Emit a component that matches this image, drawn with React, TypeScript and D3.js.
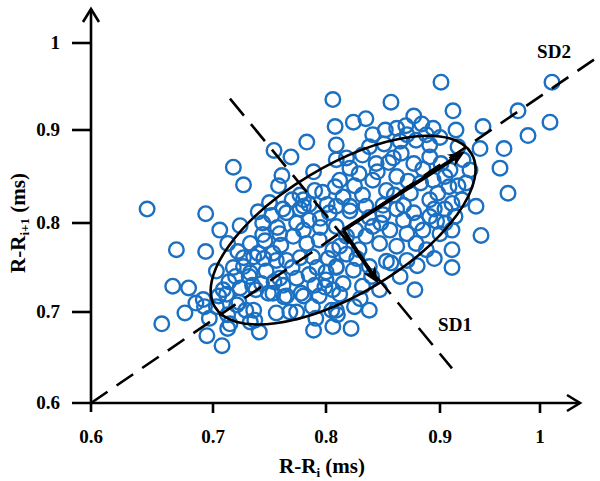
import * as d3 from 'd3';
import * as React from 'react';

// Poincaré plot: R-R(i) against R-R(i+1), values in ms as labelled on the figure
const xTicks = [0.6, 0.7, 0.8, 0.9, 1];
const yTicks = [0.6, 0.7, 0.8, 0.9, 1];
const xTickLabels = ['0.6', '0.7', '0.8', '0.9', '1'];
const yTickLabels = ['0.6', '0.7', '0.8', '0.9', '1'];

const rrPairs: [number, number][] = [
  [0.646, 0.815], [0.658, 0.687], [0.670, 0.770], [0.667, 0.729], [0.680, 0.727],
  [0.677, 0.699], [0.686, 0.710], [0.693, 0.706], [0.695, 0.674], [0.708, 0.663],
  [0.713, 0.682], [0.713, 0.697], [0.694, 0.810], [0.706, 0.792], [0.694, 0.768],
  [0.703, 0.746], [0.713, 0.777], [0.724, 0.797], [0.718, 0.860], [0.727, 0.841],
  [0.705, 0.718], [0.714, 0.734], [0.723, 0.711], [0.729, 0.702], [0.737, 0.691],
  [0.741, 0.678], [0.727, 0.751], [0.736, 0.762], [0.732, 0.740], [0.743, 0.732],
  [0.746, 0.780], [0.750, 0.822], [0.754, 0.878], [0.761, 0.851], [0.769, 0.871],
  [0.783, 0.887], [0.806, 0.935], [0.789, 0.855], [0.777, 0.830], [0.780, 0.818],
  [0.756, 0.758], [0.754, 0.734], [0.749, 0.721], [0.763, 0.717], [0.768, 0.700],
  [0.778, 0.721], [0.789, 0.680], [0.791, 0.693], [0.799, 0.728], [0.810, 0.697],
  [0.822, 0.682], [0.825, 0.706], [0.838, 0.702], [0.847, 0.725], [0.878, 0.725],
  [0.857, 0.755], [0.912, 0.770], [0.912, 0.750], [0.941, 0.786], [0.936, 0.818],
  [0.968, 0.832], [0.960, 0.859], [0.964, 0.880], [0.940, 0.880], [0.943, 0.904],
  [0.988, 0.894], [0.978, 0.922], [1.010, 0.909], [1.012, 0.955], [0.901, 0.955],
  [0.857, 0.932], [0.877, 0.916], [0.913, 0.922], [0.916, 0.900], [0.930, 0.857],
  [0.918, 0.882], [0.923, 0.868], [0.926, 0.843], [0.922, 0.825], [0.915, 0.807],
  [0.808, 0.904], [0.809, 0.868], [0.790, 0.835], [0.797, 0.833], [0.808, 0.839],
  [0.785, 0.820], [0.801, 0.820], [0.824, 0.909], [0.835, 0.913], [0.809, 0.884],
  [0.841, 0.895], [0.852, 0.900], [0.832, 0.873], [0.884, 0.907], [0.894, 0.902],
  [0.900, 0.892], [0.862, 0.902], [0.871, 0.895], [0.879, 0.889], [0.891, 0.884],
  [0.844, 0.864], [0.859, 0.870], [0.866, 0.875], [0.877, 0.864], [0.891, 0.871],
  [0.901, 0.864], [0.910, 0.857], [0.821, 0.859], [0.829, 0.853], [0.812, 0.846],
  [0.841, 0.846], [0.862, 0.850], [0.883, 0.843], [0.894, 0.846], [0.909, 0.839],
  [0.874, 0.832], [0.853, 0.835], [0.832, 0.830], [0.815, 0.828], [0.891, 0.825],
  [0.912, 0.821], [0.821, 0.818], [0.850, 0.819], [0.868, 0.819], [0.765, 0.811],
  [0.777, 0.815], [0.785, 0.803], [0.803, 0.811], [0.733, 0.777], [0.744, 0.787],
  [0.759, 0.788], [0.771, 0.785], [0.783, 0.777], [0.794, 0.781], [0.806, 0.770],
  [0.727, 0.761], [0.740, 0.766], [0.753, 0.766], [0.765, 0.758], [0.777, 0.761],
  [0.788, 0.762], [0.718, 0.750], [0.733, 0.744], [0.747, 0.746], [0.759, 0.738],
  [0.774, 0.738], [0.785, 0.742], [0.800, 0.736], [0.809, 0.750], [0.692, 0.714],
  [0.709, 0.725], [0.724, 0.727], [0.738, 0.725], [0.753, 0.721], [0.765, 0.718],
  [0.780, 0.718], [0.794, 0.718], [0.806, 0.725], [0.703, 0.706], [0.721, 0.708],
  [0.736, 0.702], [0.756, 0.699], [0.774, 0.700], [0.788, 0.706], [0.805, 0.702],
  [0.697, 0.693], [0.715, 0.687], [0.733, 0.689], [0.806, 0.684], [0.809, 0.818],
  [0.821, 0.813], [0.835, 0.818], [0.850, 0.809], [0.862, 0.815], [0.877, 0.811],
  [0.891, 0.807], [0.905, 0.815], [0.809, 0.796], [0.826, 0.792], [0.841, 0.796],
  [0.856, 0.792], [0.871, 0.788], [0.885, 0.792], [0.900, 0.788], [0.912, 0.792],
  [0.812, 0.774], [0.829, 0.770], [0.847, 0.777], [0.862, 0.774], [0.879, 0.777],
  [0.888, 0.770], [0.809, 0.751], [0.824, 0.747], [0.838, 0.751], [0.853, 0.757],
  [0.871, 0.758], [0.815, 0.732], [0.832, 0.729], [0.809, 0.702], [0.744, 0.800],
  [0.762, 0.815], [0.780, 0.825], [0.774, 0.800], [0.851, 0.885], [0.895, 0.760],
  [0.865, 0.740], [0.880, 0.752], [0.840, 0.740], [0.827, 0.760], [0.897, 0.802],
  [0.868, 0.803], [0.838, 0.806], [0.818, 0.785], [0.795, 0.795], [0.760, 0.775],
  [0.757, 0.795], [0.770, 0.750], [0.792, 0.750], [0.802, 0.760], [0.818, 0.765],
  [0.835, 0.785], [0.848, 0.800], [0.860, 0.830], [0.872, 0.845], [0.885, 0.858],
  [0.898, 0.832], [0.905, 0.850], [0.845, 0.855], [0.825, 0.840], [0.818, 0.870],
  [0.838, 0.882], [0.865, 0.888], [0.888, 0.895], [0.870, 0.905], [0.855, 0.865],
  [0.745, 0.760], [0.735, 0.730], [0.720, 0.740], [0.762, 0.730], [0.790, 0.730],
  [0.800, 0.745], [0.812, 0.720], [0.830, 0.715], [0.795, 0.805], [0.780, 0.792],
  [0.752, 0.808], [0.770, 0.825], [0.758, 0.840], [0.740, 0.812], [0.722, 0.768],
  [0.712, 0.720], [0.880, 0.800], [0.895, 0.815], [0.905, 0.800], [0.918, 0.840],
];

// SD1 / SD2 annotation, in the same units
const centroid: [number, number] = [0.815, 0.792];
const sd2Tip: [number, number] = [0.925, 0.877];
const sd1Tip: [number, number] = [0.846, 0.732];
const identityLine: [number, number][] = [[0.6, 0.6], [1.058, 0.984]];
const sd1Line: [number, number][] = [[0.715, 0.936], [0.912, 0.638]];
const sdLabels = [
  { text: 'SD2', at: [1.014, 0.99] as [number, number] },
  { text: 'SD1', at: [0.915, 0.686] as [number, number] },
];

const W = 600;
const H = 481;
const font = "'Liberation Serif', 'Times New Roman', serif";
const blue = '#1c70c2';

// the printed axes are not evenly spaced, so a piecewise scale follows the ticks
const x = d3.scaleLinear().domain(xTicks).range([91, 213, 326, 440, 540]);
const y = d3.scaleLinear().domain(yTicks).range([403, 312, 223, 130, 43]);

const line = d3.line<[number, number]>()
  .x((d) => x(d[0]))
  .y((d) => y(d[1]));

function arrow(from: [number, number], to: [number, number], len: number, half: number) {
  const x0 = x(from[0]), y0 = y(from[1]);
  const x1 = x(to[0]), y1 = y(to[1]);
  const a = Math.atan2(y1 - y0, x1 - x0);
  const ux = Math.cos(a), uy = Math.sin(a);
  const bx = x1 - ux * len, by = y1 - uy * len;
  const nx = x1 - ux * len * 0.7, ny = y1 - uy * len * 0.7;
  const head = `M${x1},${y1}L${bx - uy * half},${by + ux * half}L${nx},${ny}L${bx + uy * half},${by - ux * half}Z`;
  return { shaft: `M${x0},${y0}L${nx},${ny}`, head };
}

export default function App() {
  const cx = x(centroid[0]);
  const cy = y(centroid[1]);
  const d2 = [x(sd2Tip[0]) - cx, y(sd2Tip[1]) - cy];
  const d1 = [x(sd1Tip[0]) - cx, y(sd1Tip[1]) - cy];
  const angle = (Math.atan2(d2[1], d2[0]) * 180) / Math.PI + 2;
  const rx = Math.hypot(d2[0], d2[1]) * 1.03;
  const ry = Math.hypot(d1[0], d1[1]);

  const a2 = arrow(centroid, sd2Tip, 17, 7);
  const a1 = arrow(centroid, sd1Tip, 17, 7);

  const x0 = x(xTicks[0]);
  const y0 = y(yTicks[0]);

  return (
    <svg width={W} height={H} style={{ position: 'absolute', left: 0, top: 0, background: '#fff' }}
      fontFamily={font} fontWeight="bold">
      <g>
        {rrPairs.map((d, i) => (
          <circle key={i} cx={x(d[0])} cy={y(d[1])} r={7.3} fill="none" stroke={blue} strokeWidth={2.4} />
        ))}
      </g>

      <g fill="none" stroke="#000">
        <path d={line(identityLine) ?? ''} strokeWidth={2.6} strokeDasharray="20 11" />
        <path d={line(sd1Line) ?? ''} strokeWidth={2.6} strokeDasharray="22 11" />
        <ellipse cx={cx} cy={cy} rx={rx} ry={ry} strokeWidth={2.6}
          transform={`rotate(${angle} ${cx} ${cy})`} />
        <path d={a2.shaft} strokeWidth={4} />
        <path d={a1.shaft} strokeWidth={4} />
      </g>
      <path d={a2.head} fill="#000" />
      <path d={a1.head} fill="#000" />

      {/* axes */}
      <g stroke="#000" strokeWidth={2.6} fill="none">
        <line x1={x0} x2={x0} y1={y0 + 9} y2={9} />
        <polyline points={`${x0 - 8},${22} ${x0},${9} ${x0 + 8},${22}`} />
        <line x1={x0 - 19} x2={580} y1={y0} y2={y0} />
        <polyline points={`${567},${y0 - 8} ${580},${y0} ${567},${y0 + 8}`} />
        {yTicks.slice(1).map((t) => (
          <line key={t} x1={x0 - 19} x2={x0} y1={y(t)} y2={y(t)} />
        ))}
        {xTicks.slice(1).map((t) => (
          <line key={t} x1={x(t)} x2={x(t)} y1={y0} y2={y0 + 10} />
        ))}
      </g>

      <g fontSize={19} fill="#000">
        {xTicks.map((t, i) => (
          <text key={t} x={x(t)} y={y0 + 40} textAnchor="middle">{xTickLabels[i]}</text>
        ))}
        {yTicks.map((t, i) => (
          <text key={t} x={x0 - 31} y={y(t) + 6} textAnchor="end">{yTickLabels[i]}</text>
        ))}
      </g>

      <text x={322} y={473} textAnchor="middle" fontSize={21} fill="#000">
        R-R<tspan dy={4} fontSize={13}>i</tspan><tspan dy={-4}> (ms)</tspan>
      </text>
      <text transform={`translate(25, ${y(0.8)}) rotate(-90)`} textAnchor="middle" fontSize={21} fill="#000">
        R-R<tspan dy={4} fontSize={13}>i+1</tspan><tspan dy={-4}> (ms)</tspan>
      </text>

      {sdLabels.map((l) => (
        <text key={l.text} x={x(l.at[0])} y={y(l.at[1]) + 6} textAnchor="middle" fontSize={19} fill="#000">
          {l.text}
        </text>
      ))}
    </svg>
  );
}
